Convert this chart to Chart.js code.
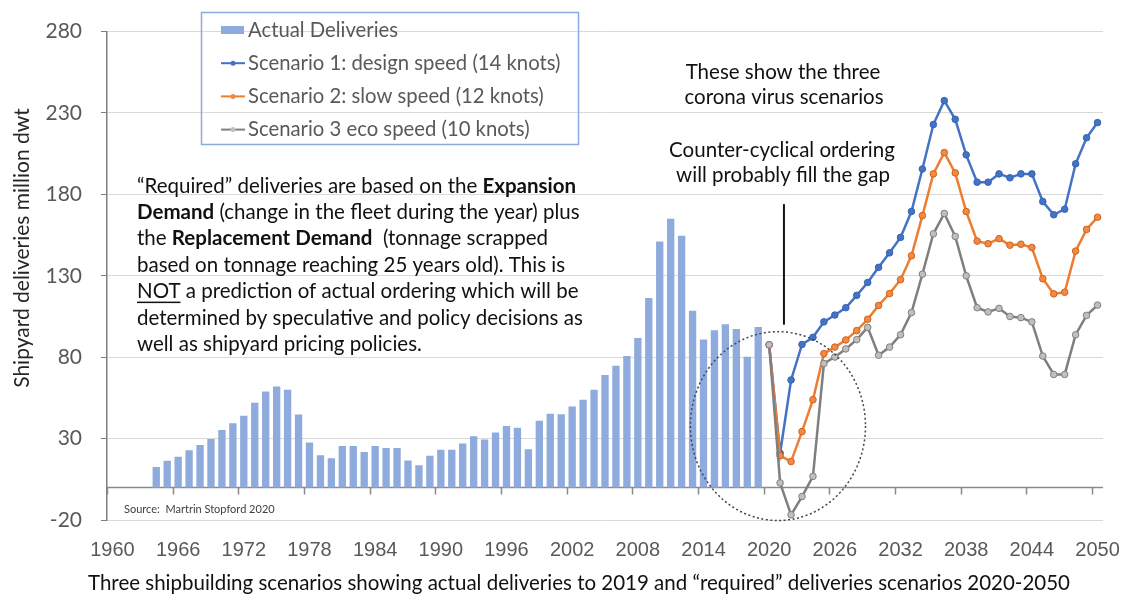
<!DOCTYPE html>
<html>
<head>
<meta charset="utf-8">
<script src="https://cdn.jsdelivr.net/npm/chart.js@4.4.1/dist/chart.umd.min.js"></script>
<style>
  html, body { margin: 0; padding: 0; background: #fff; }
</style>
</head>
<body>
<canvas id="chart" width="1126" height="601"></canvas>
<script>
// categories: one per year, 1960-2050
const years = [
  1960, 1961, 1962, 1963, 1964, 1965, 1966, 1967, 1968, 1969,
  1970, 1971, 1972, 1973, 1974, 1975, 1976, 1977, 1978, 1979,
  1980, 1981, 1982, 1983, 1984, 1985, 1986, 1987, 1988, 1989,
  1990, 1991, 1992, 1993, 1994, 1995, 1996, 1997, 1998, 1999,
  2000, 2001, 2002, 2003, 2004, 2005, 2006, 2007, 2008, 2009,
  2010, 2011, 2012, 2013, 2014, 2015, 2016, 2017, 2018, 2019,
  2020, 2021, 2022, 2023, 2024, 2025, 2026, 2027, 2028, 2029,
  2030, 2031, 2032, 2033, 2034, 2035, 2036, 2037, 2038, 2039,
  2040, 2041, 2042, 2043, 2044, 2045, 2046, 2047, 2048, 2049,
  2050
];
const tickYears = [1960, 1966, 1972, 1978, 1984, 1990, 1996, 2002, 2008, 2014, 2020, 2026, 2032, 2038, 2044, 2050];
const yTicks = [-20, 30, 80, 130, 180, 230, 280];

// actual deliveries, 1964-2019 (million dwt)
const actualStart = 1964;
const actualDeliveries = [
  12.5, 16.4, 18.8, 22.8, 26.0, 29.7, 35.3, 39.4, 44.0, 52.0,
  59.0, 62.0, 60.0, 44.8, 27.6, 19.8, 18.0, 25.4, 25.4, 21.8,
  25.4, 24.2, 24.2, 16.5, 13.7, 19.4, 23.2, 23.2, 27.0, 31.5,
  29.5, 33.7, 37.8, 36.7, 23.4, 41.0, 45.2, 45.0, 49.7, 53.9,
  60.0, 69.0, 74.7, 80.7, 91.8, 116.3, 151.0, 165.0, 154.6, 108.6,
  90.9, 96.5, 100.3, 97.3, 80.3, 98.5
];

// "required" deliveries scenarios, 2020-2050
const scenarioStart = 2020;
const scenario1 = [
  87.6, 21.0, 66.0, 87.8, 92.2, 101.7, 105.9, 110.4, 118.0, 125.9,
  135.2, 144.1, 153.6, 169.5, 195.6, 222.9, 237.6, 226.1, 204.3, 187.5,
  187.5, 192.6, 190.2, 192.6, 192.6, 175.6, 167.5, 170.9, 198.8, 214.8,
  224.1
];
const scenario2 = [
  87.6, 19.5, 15.9, 34.3, 53.9, 82.2, 86.2, 90.6, 96.3, 103.3,
  111.8, 119.1, 127.6, 142.3, 167.0, 192.6, 205.7, 193.2, 169.5, 151.3,
  149.7, 152.8, 148.8, 149.4, 147.4, 128.2, 118.9, 119.9, 145.2, 158.5,
  166.0
];
const scenario3 = [
  87.6, 2.8, -16.8, -5.6, 6.8, 76.1, 80.1, 85.1, 90.8, 98.3,
  81.2, 86.2, 93.8, 107.4, 131.0, 155.8, 168.3, 154.2, 130.0, 110.4,
  107.8, 110.0, 105.0, 104.3, 101.7, 80.7, 69.4, 69.4, 93.8, 105.7,
  112.0
];

const noteLines = [
  [['\u201CRequired\u201D deliveries are based on the ', 0], ['Expansion', 1]],
  [['Demand', 1], [' (change in the fleet during the year) plus', 0]],
  [['the ', 0], ['Replacement Demand', 1], ['  (tonnage scrapped', 0]],
  [['based on tonnage reaching 25 years old). This is', 0]],
  [['NOT', 2], [' a prediction of actual ordering which will be', 0]],
  [['determined by speculative and policy decisions as', 0]],
  [['well as shipyard pricing policies.', 0]]
];

function spread(values, start) {
  return years.map(yr => {
    const i = yr - start;
    return i >= 0 && i < values.length ? values[i] : null;
  });
}

const FONT = 'Lato, "Open Sans", sans-serif';

const overlay = {
  id: 'overlay',
  beforeDatasetsDraw(chart) {
    // x axis sits on zero, ticks hang below it
    const { ctx, chartArea, scales: { x, y } } = chart;
    const y0 = y.getPixelForValue(0);
    const w = x.getPixelForValue(1) - x.getPixelForValue(0);
    ctx.save();
    ctx.strokeStyle = '#8a8a8a';
    ctx.lineWidth = 1.5;
    ctx.beginPath();
    ctx.moveTo(chartArea.left, y0);
    ctx.lineTo(chartArea.right, y0);
    tickYears.forEach(yr => {
      const px = Math.round(x.getPixelForValue(years.indexOf(yr)) - w / 2) + 0.5;
      ctx.moveTo(px, y0);
      ctx.lineTo(px, y0 + 7);
    });
    ctx.stroke();
    ctx.restore();
  },
  afterDatasetsDraw(chart) {
    const { ctx, scales: { x, y } } = chart;
    const w = x.getPixelForValue(1) - x.getPixelForValue(0);
    const i21 = years.indexOf(2021);

    // dotted ring round the 2020-2025 dip
    ctx.save();
    ctx.setLineDash([2, 2.5]);
    ctx.strokeStyle = '#3b4658';
    ctx.lineWidth = 1.5;
    ctx.beginPath();
    ctx.ellipse(x.getPixelForValue(i21 - 0.2), y.getPixelForValue(37.7),
      8 * w, y.getPixelForValue(0) - y.getPixelForValue(58), 0, 0, Math.PI * 2);
    ctx.stroke();

    // pointer from the counter-cyclical note
    ctx.setLineDash([]);
    ctx.strokeStyle = '#111';
    ctx.lineWidth = 2;
    const lx = x.getPixelForValue(i21 + 0.35);
    ctx.beginPath();
    ctx.moveTo(lx, y.getPixelForValue(174));
    ctx.lineTo(lx, y.getPixelForValue(100));
    ctx.stroke();
    ctx.restore();
  },
  afterDraw(chart) {
    const { ctx } = chart;
    ctx.save();

    // legend box
    ctx.strokeStyle = '#8faadc';
    ctx.lineWidth = 1.5;
    ctx.strokeRect(201.5, 12.5, 377, 132);
    ctx.font = '20.3px ' + FONT;
    ctx.textBaseline = 'middle';
    ctx.textAlign = 'left';
    chart.data.datasets.forEach((ds, i) => {
      const ly = 30 + i * 33.2;
      if (ds.type === 'bar') {
        ctx.fillStyle = ds.backgroundColor;
        ctx.fillRect(221, ly - 4, 23, 8);
      } else {
        ctx.strokeStyle = ds.borderColor;
        ctx.lineWidth = 2;
        ctx.beginPath();
        ctx.moveTo(221, ly);
        ctx.lineTo(245, ly);
        ctx.stroke();
        ctx.fillStyle = ds.pointBackgroundColor;
        ctx.beginPath();
        ctx.arc(233, ly, 2.5, 0, Math.PI * 2);
        ctx.fill();
      }
      ctx.fillStyle = '#595959';
      ctx.fillText(ds.label, 248, ly);
    });

    // explanatory note
    ctx.fillStyle = '#111';
    noteLines.forEach((line, i) => {
      let tx = 137;
      const ty = 186 + i * 26.4;
      line.forEach(([text, style]) => {
        ctx.font = (style === 1 ? 'bold ' : '') + '20.5px ' + FONT;
        ctx.fillText(text, tx, ty);
        const tw = ctx.measureText(text).width;
        if (style === 2) {
          ctx.fillRect(tx, ty + 10, tw, 1.5);
        }
        tx += tw;
      });
    });

    ctx.font = '20.5px ' + FONT;
    ctx.textAlign = 'center';
    ctx.fillText('These show the three', 783, 72);
    ctx.fillText('corona virus scenarios', 784, 97);
    ctx.fillText('Counter-cyclical ordering', 782, 150);
    ctx.fillText('will probably fill the gap', 783, 175);

    // source
    ctx.textAlign = 'left';
    ctx.fillStyle = '#404040';
    ctx.font = '11px ' + FONT;
    ctx.fillText('Source:  Martrin Stopford 2020', 124, 509);

    // y axis title
    ctx.save();
    ctx.translate(22, 248);
    ctx.rotate(-Math.PI / 2);
    ctx.textAlign = 'center';
    ctx.fillStyle = '#262626';
    ctx.font = '21px ' + FONT;
    ctx.fillText('Shipyard deliveries million dwt', 0, 0);
    ctx.restore();

    // caption
    ctx.fillStyle = '#111';
    ctx.font = '20.5px ' + FONT;
    ctx.textAlign = 'left';
    ctx.fillText('Three shipbuilding scenarios showing actual deliveries to 2019 and \u201Crequired\u201D deliveries scenarios 2020-2050', 88, 583, 982);

    ctx.restore();
  }
};

new Chart(document.getElementById('chart'), {
  data: {
    labels: years,
    datasets: [
      {
        type: 'bar',
        label: 'Actual Deliveries',
        data: spread(actualDeliveries, actualStart),
        backgroundColor: '#8faadc',
        barPercentage: 0.67,
        categoryPercentage: 1,
        order: 4
      },
      {
        type: 'line',
        label: 'Scenario 1: design speed (14 knots)',
        data: spread(scenario1, scenarioStart),
        borderColor: '#4472c4',
        borderWidth: 2.5,
        pointRadius: 3.3,
        pointBackgroundColor: '#4472c4',
        pointBorderColor: '#3764b4',
        pointBorderWidth: 1,
        order: 3
      },
      {
        type: 'line',
        label: 'Scenario 2: slow speed (12 knots)',
        data: spread(scenario2, scenarioStart),
        borderColor: '#ed7d31',
        borderWidth: 2.5,
        pointRadius: 3.3,
        pointBackgroundColor: '#f08a45',
        pointBorderColor: '#d2601a',
        pointBorderWidth: 1,
        order: 2
      },
      {
        type: 'line',
        label: 'Scenario 3 eco speed (10 knots)',
        data: spread(scenario3, scenarioStart),
        borderColor: '#7f7f7f',
        borderWidth: 2.5,
        pointRadius: 3.3,
        pointBackgroundColor: '#bfbfbf',
        pointBorderColor: '#7f7f7f',
        pointBorderWidth: 1,
        order: 1
      }
    ]
  },
  options: {
    responsive: false,
    animation: false,
    layout: { padding: { top: 25, right: 23, bottom: 36, left: 0 } },
    plugins: {
      legend: { display: false },
      tooltip: { enabled: false }
    },
    scales: {
      x: {
        type: 'category',
        offset: true,
        afterFit: s => {
          s.height = 45;
          s.paddingLeft = 0;
          s.paddingRight = 0;
        },
        grid: {
          offset: true,
          drawTicks: false,
          color: c => (c.tick && tickYears.includes(c.tick.label) ? '#d9d9d9' : 'rgba(0,0,0,0)'),
          lineWidth: 1
        },
        border: { display: false },
        ticks: {
          autoSkip: false,
          maxRotation: 0,
          padding: 18,
          color: '#595959',
          font: { family: '"Liberation Sans Narrow", sans-serif', size: 20 },
          callback: function (v, i) {
            const yr = years[i];
            return tickYears.includes(yr) ? String(yr) : '';
          }
        }
      },
      y: {
        min: -20,
        max: 280,
        afterFit: s => { s.width = 107; },
        afterBuildTicks: s => { s.ticks = yTicks.map(v => ({ value: v })); },
        grid: {
          color: '#d9d9d9',
          tickColor: '#7f7f7f',
          tickLength: 6
        },
        border: { display: true, color: '#7f7f7f', width: 1.5 },
        ticks: {
          padding: 19,
          color: '#595959',
          font: { family: FONT, size: 21 }
        }
      }
    }
  },
  plugins: [overlay]
});
</script>
</body>
</html>
